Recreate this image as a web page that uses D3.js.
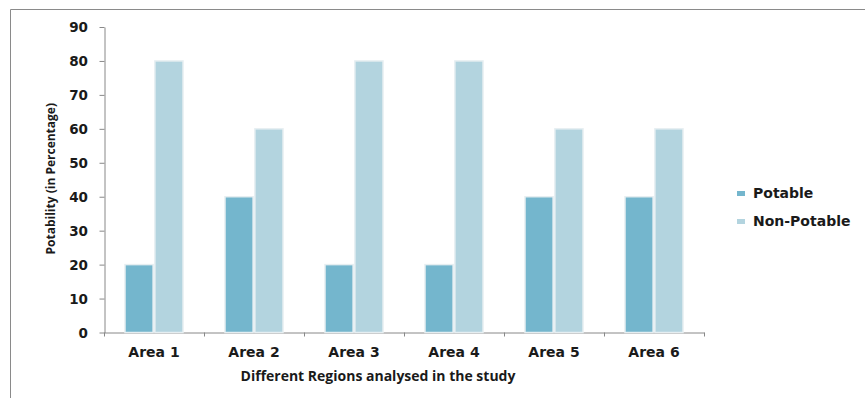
<!DOCTYPE html>
<html>
<head>
<meta charset="utf-8">
<script src="https://cdn.jsdelivr.net/npm/d3@7/dist/d3.min.js"></script>
<style>
  body { margin: 0; background: #fff; }
  text { font-weight: 700; fill: #1a1a1a; }
</style>
</head>
<body>
<div id="main"></div>
<script>
const areas = ['Area 1', 'Area 2', 'Area 3', 'Area 4', 'Area 5', 'Area 6'];
const series = ['Potable', 'Non-Potable'];
const potable = [20, 40, 20, 20, 40, 40];
const nonPotable = [80, 60, 80, 80, 60, 60];
const yTicks = [0, 10, 20, 30, 40, 50, 60, 70, 80, 90];
const colors = ['#74b6cd', '#b3d4df'];

const wideFont = '"DejaVu Sans", Verdana, sans-serif';
const narrowFont = '"Open Sans", "Liberation Sans", sans-serif';

const width = 865, height = 398;
const svg = d3.select('#main').append('svg')
    .attr('width', width)
    .attr('height', height);

// outer frame
svg.append('path')
    .attr('d', `M10.5,${height} L10.5,9.5 L${width},9.5`)
    .attr('fill', 'none')
    .attr('stroke', '#8a8a8a')
    .attr('stroke-width', 1);

const x = d3.scaleBand()
    .domain(areas)
    .range([104, 704]);
const x1 = d3.scaleBand()
    .domain(series)
    .range([21, 79])
    .paddingInner(0.06);
const y = d3.scaleLinear()
    .domain([0, 90])
    .range([332.5, 27]);

const xAxis = svg.append('g')
    .attr('transform', `translate(0, ${y(0)})`)
    .call(d3.axisBottom(x).tickSizeOuter(0).tickSize(0));
xAxis.select('.domain').attr('stroke', '#888');
xAxis.selectAll('text')
    .attr('y', 24.5)
    .attr('dy', 0)
    .attr('font-family', wideFont)
    .attr('font-size', 14)
    .attr('fill', '#1a1a1a');

// category boundary ticks
const edges = areas.map(d => x(d)).concat([x.range()[1]]);
svg.append('g').selectAll('line')
    .data(edges)
    .enter()
    .append('line')
    .attr('x1', d => d + 0.5)
    .attr('x2', d => d + 0.5)
    .attr('y1', y(0))
    .attr('y2', y(0) + 4)
    .attr('stroke', '#888');

const yAxis = svg.append('g')
    .attr('transform', 'translate(104.5, 0)')
    .call(d3.axisLeft(y).tickValues(yTicks).tickSize(5).tickSizeOuter(0));
yAxis.select('.domain').attr('stroke', '#888');
yAxis.selectAll('.tick line').attr('stroke', '#888');
yAxis.selectAll('text')
    .attr('x', -16.5)
    .attr('dy', '0.36em')
    .attr('font-family', wideFont)
    .attr('font-size', 13.5)
    .attr('fill', '#1a1a1a');

const rows = areas.map((a, i) => ({ area: a, values: [potable[i], nonPotable[i]] }));

const groups = svg.append('g').selectAll('g')
    .data(rows)
    .enter()
    .append('g')
    .attr('transform', d => `translate(${x(d.area)}, 0)`);

groups.selectAll('rect')
    .data(d => d.values.map((v, j) => ({ key: series[j], value: v, j: j })))
    .enter()
    .append('rect')
    .attr('x', d => x1(d.key))
    .attr('y', d => y(d.value))
    .attr('width', x1.bandwidth())
    .attr('height', d => y(0) - y(d.value))
    .attr('fill', d => colors[d.j])
    .attr('stroke', '#e6eef1')
    .attr('stroke-width', 1.5);

// axis titles
svg.append('text')
    .attr('x', 378)
    .attr('y', 381)
    .attr('text-anchor', 'middle')
    .attr('font-family', narrowFont)
    .attr('font-size', 14)
    .text('Different Regions analysed in the study');

svg.append('text')
    .attr('transform', `translate(55, ${y(45) - 1}) rotate(-90)`)
    .attr('text-anchor', 'middle')
    .attr('font-family', narrowFont)
    .attr('font-size', 12)
    .text('Potability (in Percentage)');

// legend
const legend = svg.append('g').selectAll('g')
    .data(series)
    .enter()
    .append('g')
    .attr('transform', (d, i) => `translate(737, ${198 + i * 28})`);
legend.append('rect')
    .attr('x', 0)
    .attr('y', -7)
    .attr('width', 8)
    .attr('height', 5)
    .attr('fill', (d, i) => colors[i]);
legend.append('text')
    .attr('x', 16)
    .attr('y', 0)
    .attr('font-family', wideFont)
    .attr('font-size', 14)
    .text(d => d);
</script>
</body>
</html>
